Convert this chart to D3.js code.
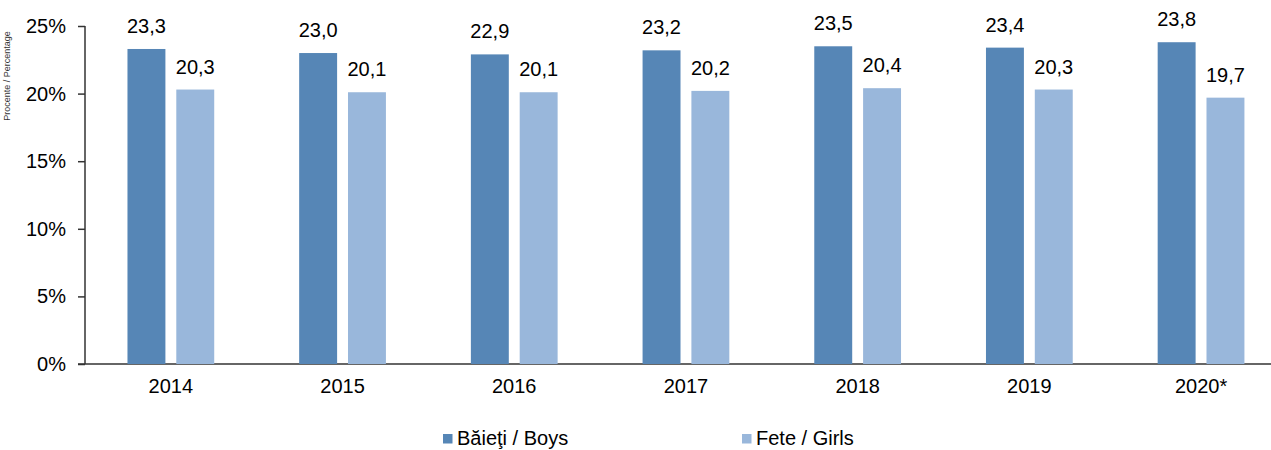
<!DOCTYPE html>
<html>
<head>
<meta charset="utf-8">
<script src="https://cdn.jsdelivr.net/npm/d3@7"></script>
<style>
  html, body { margin: 0; padding: 0; background: #fff; }
  svg { display: block; font-family: "Liberation Sans", Arial, sans-serif; }
</style>
</head>
<body>
<div class="chart-container"></div>
<script>
//! DATA
const years = ['2014', '2015', '2016', '2017', '2018', '2019', '2020*']
const boys = [23.3, 23.0, 22.9, 23.2, 23.5, 23.4, 23.8]
const girls = [20.3, 20.1, 20.1, 20.2, 20.4, 20.3, 19.7]
const yTicks = [0, 5, 10, 15, 20, 25]
const seriesNames = ['Băieţi / Boys', 'Fete / Girls']
const axisTitle = 'Procente / Percentage'

//! CONSTS
const WIDTH = 1271
const HEIGHT = 450
const LEFT = 85
const TOP = 26
const BOTTOM = 364
const STEP = 171.7
const COLORS = ['#5686b6', '#99b7db']
const AXIS_COLOR = '#333'
const FONT = '"Liberation Sans", Arial, sans-serif'
const FS = 20

const svg = d3.select('.chart-container')
  .append('svg')
  .attr('width', WIDTH)
  .attr('height', HEIGHT)

//! SCALES
const xScale = d3.scaleBand()
  .domain(years)
  .range([LEFT, LEFT + STEP * years.length])

const subScale = d3.scaleBand()
  .domain([0, 1])
  .range([0, xScale.bandwidth()])
  .paddingInner(0.223)
  .paddingOuter(0.87)

const yScale = d3.scaleLinear()
  .domain([0, 25])
  .range([BOTTOM, TOP])

//! AXIS
const yAxis = d3.axisLeft(yScale)
  .tickValues(yTicks)
  .tickSize(7)
  .tickPadding(12)
  .tickFormat(d => d + '%')

const yG = svg.append('g')
  .attr('transform', `translate(${LEFT},0)`)
  .call(yAxis)
yG.select('.domain').remove()
yG.selectAll('line').attr('stroke', AXIS_COLOR).attr('stroke-width', 1.5)
yG.selectAll('text')
  .attr('font-size', FS)
  .attr('fill', '#000')
  .attr('font-family', FONT)

svg.append('line')
  .attr('x1', LEFT).attr('x2', LEFT)
  .attr('y1', TOP).attr('y2', BOTTOM)
  .attr('stroke', AXIS_COLOR).attr('stroke-width', 1.5)

const xAxis = d3.axisBottom(xScale)
  .tickSize(0)
  .tickPadding(15)

const xG = svg.append('g')
  .attr('transform', `translate(0,${BOTTOM})`)
  .call(xAxis)
xG.select('.domain').remove()
xG.selectAll('text')
  .attr('font-size', FS)
  .attr('fill', '#000')
  .attr('font-family', FONT)

svg.append('line')
  .attr('x1', LEFT - 7).attr('x2', WIDTH)
  .attr('y1', BOTTOM).attr('y2', BOTTOM)
  .attr('stroke', AXIS_COLOR).attr('stroke-width', 1.5)

// small rotated axis title squeezed at the left edge
svg.append('text')
  .attr('transform', `translate(10,76) rotate(-90)`)
  .attr('text-anchor', 'middle')
  .attr('font-size', 9)
  .attr('fill', '#333')
  .text(axisTitle)

//! BARS
const series = [boys, girls]
series.forEach((vals, s) => {
  const g = svg.append('g')
  g.selectAll('rect')
    .data(vals)
    .enter()
    .append('rect')
    .attr('x', (d, i) => xScale(years[i]) + subScale(s))
    .attr('y', d => yScale(d))
    .attr('width', subScale.bandwidth())
    .attr('height', d => yScale(0) - yScale(d))
    .attr('fill', COLORS[s])

  g.selectAll('text')
    .data(vals)
    .enter()
    .append('text')
    .attr('x', (d, i) => xScale(years[i]) + subScale(s) + subScale.bandwidth() / 2)
    .attr('y', d => yScale(d) - 16)
    .attr('text-anchor', 'middle')
    .attr('font-size', FS)
    .text(d => d3.format('.1f')(d).replace('.', ','))
})

//! LEGEND
const legendX = [443, 742]
const legend = svg.append('g')
seriesNames.forEach((name, i) => {
  legend.append('rect')
    .attr('x', legendX[i]).attr('y', 434)
    .attr('width', 9.5).attr('height', 9.5)
    .attr('fill', COLORS[i])
  legend.append('text')
    .attr('x', legendX[i] + 14).attr('y', 445)
    .attr('font-size', FS)
    .text(name)
})
</script>
</body>
</html>
